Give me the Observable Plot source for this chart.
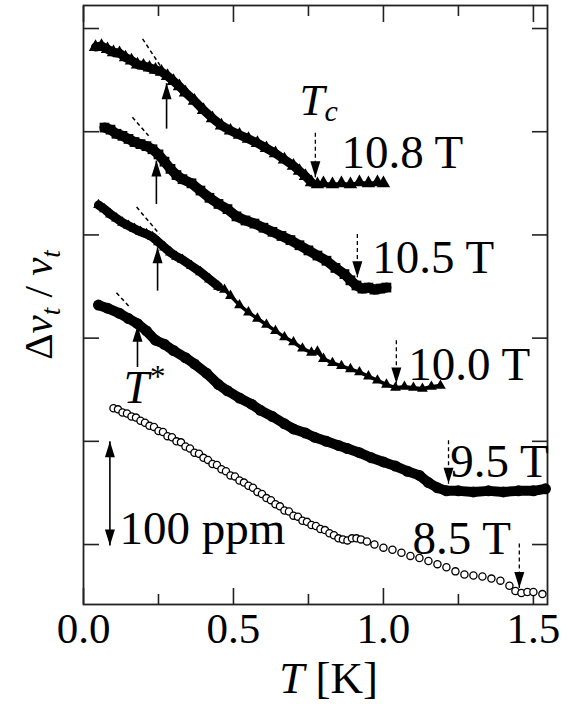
<!DOCTYPE html>
<html><head><meta charset="utf-8">
<script src="https://cdn.jsdelivr.net/npm/d3@7"></script>
<script src="https://cdn.jsdelivr.net/npm/@observablehq/plot@0.6"></script>
<style>body{margin:0;background:#fff}</style>
</head><body><div id="chart"></div>
<script>
// ---- data (T in K, Δv/v in ppm, offset per curve) ----
const T108 = [0.04,0.06,0.08,0.10,0.12,0.14,0.16,0.18,0.20,0.22,0.24,0.26,0.28,0.30,0.32,0.34,0.37,0.40,0.43,0.46,0.49,0.52,0.55,0.58,0.61,0.64,0.67,0.70,0.72,0.74,0.76,0.78,0.80,0.83,0.86,0.89,0.92,0.95,0.98,1.00];
const V108 = [482,483,480,477,476,472,469,465,464,462,460,458,454,449,444,438,430,421,413,406,401,397,393,389,384,379,373,367,362,357,351,349,350,349,350,349,351,350,351,350];

const T105 = [0.07,0.09,0.11,0.13,0.15,0.17,0.19,0.21,0.23,0.25,0.27,0.29,0.31,0.33,0.36,0.39,0.42,0.45,0.48,0.51,0.54,0.57,0.60,0.63,0.66,0.69,0.72,0.75,0.78,0.81,0.84,0.87,0.89,0.91,0.93,0.95,0.97,0.99,1.01];
const V105 = [404,402,398,396,393,390,388,386,383,378,371,364,358,354,350,343,336,330,325,318,314,311,307,303,299,295,290,285,280,275,268,262,256,251,248,249,247,248,249];

const T100 = [0.05,0.07,0.09,0.11,0.13,0.15,0.17,0.19,0.21,0.23,0.25,0.27,0.29,0.31,0.33,0.36,0.39,0.42,0.45,0.47,0.49,0.52,0.55,0.58,0.61,0.64,0.67,0.70,0.73,0.76,0.78,0.80,0.83,0.86,0.89,0.92,0.95,0.98,1.01,1.04,1.07,1.10,1.13,1.16,1.19];
const V100 = [329,325,320,316,312,309,306,303,301,298,293,288,283,279,276,270,264,257,250,247,241,232,225,219,213,207,201,196,190,186,187,180,176,173,170,167,163,159,155,152,153,152,151,153,154];

const T95 = [0.05,0.08,0.12,0.15,0.18,0.21,0.24,0.27,0.30,0.34,0.37,0.41,0.45,0.48,0.52,0.56,0.59,0.63,0.67,0.70,0.74,0.77,0.81,0.85,0.88,0.92,0.96,1.00,1.04,1.08,1.12,1.15,1.18,1.21,1.25,1.30,1.35,1.40,1.45,1.50,1.54];
const V95 = [232,229,224,219,214,207,198,194,188,181,175,166,155,149,142,136,130,124,117,112,108,104,100,96,93,89,84,80,76,71,67,60,55,52,52,51,52,51,52,52,54];

const T85 = [0.100,0.115,0.130,0.145,0.160,0.175,0.190,0.205,0.220,0.235,0.250,0.265,0.280,0.295,0.310,0.325,0.340,0.355,0.370,0.385,0.400,0.415,0.430,0.445,0.460,0.475,0.490,0.505,0.520,0.535,0.550,0.565,0.580,0.595,0.610,0.625,0.640,0.655,0.670,0.685,0.700,0.715,0.730,0.745,0.760,0.775,0.790,0.805,0.820,0.835,0.850,0.865,0.880,0.895,0.910,0.925,0.945,0.97,1.00,1.03,1.06,1.09,1.12,1.15,1.18,1.21,1.24,1.27,1.30,1.33,1.36,1.39,1.42,1.44,1.46,1.48,1.50,1.53];
const V85 = [132,131,128,127,124,123,120,118,115,114,110,109,105,104,100,99,95,93,89,88,84,82,78,77,73,71,67,66,62,60,57,55,51,49,45,43,39,37,33,32,28,27,23,22,19,18,15,14,11,9,6,5,4,6,6,5,3,0,-3,-5,-8,-11,-13,-16,-19,-22,-26,-29,-30,-31,-33,-35,-40,-45,-47,-46,-46,-48];

// Tc arrows (dashed, pointing down)
const tcT   = [0.773, 0.913, 1.043, 1.217, 1.453];
const tcTop = [399, 301, 198, 101, 1];
const tcTip = [356, 259, 156, 59, -42];
// T* arrows (solid, pointing up)
const tsT    = [0.277, 0.243, 0.247, 0.18];
const tsTail = [403, 330, 246, 172];
const tsTip  = [447, 372, 288, 212];
// tangent dashed lines
const tanT1 = [0.197, 0.163, 0.177, 0.11];
const tanV1 = [490, 414, 327, 244];
const tanT2 = [0.267, 0.217, 0.253, 0.157];
const tanV2 = [459, 396, 301, 229];
// field labels
const fieldLabels = ["10.8 T", "10.5 T", "10.0 T", "9.5 T", "8.5 T"];
const labelT = [0.86, 0.963, 1.083, 1.223, 1.097];
const labelV = [365, 263, 159, 65, -9];
// scale bar
const barT = 0.088, barLo = -1, barHi = 100;
const xTicksMajor = [0, 0.5, 1.0, 1.5];
const xTicksMinor = [0.25, 0.75, 1.25];
const yTicks = [0, 100, 200, 300, 400, 500];

// ---- build ----
const zip = (T, V) => T.map((t, i) => ({T: t, v: V[i]}));
const s108 = zip(T108, V108), s105 = zip(T105, V105), s100 = zip(T100, V100), s95 = zip(T95, V95), s85 = zip(T85, V85);
const tcArrows = tcT.map((t, i) => ({T: t, top: tcTop[i], tip: tcTip[i]}));
const tsArrows = tsT.map((t, i) => ({T: t, tail: tsTail[i], tip: tsTip[i]}));
const tangents = tanT1.map((t, i) => ({T1: t, v1: tanV1[i], T2: tanT2[i], v2: tanV2[i]}));
const labels = fieldLabels.map((s, i) => ({s, T: labelT[i], v: labelV[i]}));

const headUp = {draw(c) { c.moveTo(0, 0); c.lineTo(-5, 16); c.lineTo(5, 16); c.closePath(); }};
const headDown = {draw(c) { c.moveTo(0, 0); c.lineTo(-5, -16); c.lineTo(5, -16); c.closePath(); }};

const F = "'Liberation Serif', 'Times New Roman', 'DejaVu Serif', serif";
const tickStyle = {stroke: "#222", strokeWidth: 1.6};

const svg = Plot.plot({
  width: 569, height: 704,
  marginLeft: 83, marginRight: 22, marginTop: 5, marginBottom: 100,
  x: {domain: [0, 1.547]},
  y: {domain: [-58.1, 522.3]},
  style: {fontFamily: F, background: "white", color: "black"},
  marks: [
    Plot.frame({stroke: "#222", strokeWidth: 1.8}),
    Plot.axisX({ticks: xTicksMajor, tickSize: -16, tickFormat: () => "", label: null, ...tickStyle}),
    Plot.axisX({ticks: xTicksMinor, tickSize: -10, tickFormat: () => "", label: null, ...tickStyle}),
    Plot.axisX({anchor: "top", ticks: xTicksMajor, tickSize: -16, tickFormat: () => "", label: null, ...tickStyle}),
    Plot.axisX({anchor: "top", ticks: xTicksMinor, tickSize: -10, tickFormat: () => "", label: null, ...tickStyle}),
    Plot.axisY({ticks: yTicks, tickSize: -16, tickFormat: () => "", label: null, ...tickStyle}),
    Plot.axisY({anchor: "right", ticks: yTicks, tickSize: -16, tickFormat: () => "", label: null, ...tickStyle}),
    Plot.axisX({ticks: xTicksMajor, tickSize: 0, tickPadding: 8, tickFormat: d3.format(".1f"), label: null, fontSize: 43, fontFamily: F, fill: "black"}),

    // 10.8 T
    Plot.line(s108.filter(d => d.T <= 0.77), {x: "T", y: "v", strokeWidth: 9, strokeLinejoin: "round", strokeLinecap: "round"}),
    Plot.line(s108.filter(d => d.T >= 0.76), {x: "T", y: "v", strokeWidth: 3}),
    Plot.dot(s108, {x: "T", y: "v", symbol: "triangle", r: 5, fill: "black"}),
    // 10.5 T
    Plot.line(s105, {x: "T", y: "v", strokeWidth: 10, strokeLinejoin: "round"}),
    Plot.dot(s105, {x: "T", y: "v", symbol: "square", r: 5.5, fill: "black"}),
    // 10.0 T
    Plot.line(s100.filter(d => d.T <= 0.45), {x: "T", y: "v", strokeWidth: 9, strokeLinejoin: "round", strokeLinecap: "round"}),
    Plot.line(s100.filter(d => d.T >= 0.45), {x: "T", y: "v", strokeWidth: 3.5}),
    Plot.dot(s100, {x: "T", y: "v", symbol: "triangle", r: 4, fill: "black"}),
    // 9.5 T
    Plot.line(s95, {x: "T", y: "v", strokeWidth: 10, strokeLinejoin: "round", strokeLinecap: "round"}),
    Plot.dot(s95, {x: "T", y: "v", r: 5.5, fill: "black"}),
    // 8.5 T
    Plot.dot(s85, {x: "T", y: "v", r: 3.6, fill: "white", stroke: "black", strokeWidth: 1.3}),

    // tangents
    Plot.link(tangents, {x1: "T1", y1: "v1", x2: "T2", y2: "v2", strokeWidth: 1.5, strokeDasharray: "4,3"}),
    // T* arrows
    Plot.link(tsArrows, {x1: "T", y1: "tail", x2: "T", y2: "tip", strokeWidth: 1.6}),
    Plot.dot(tsArrows, {x: "T", y: "tip", symbol: headUp, fill: "black", stroke: null}),
    // Tc arrows
    Plot.link(tcArrows, {x1: "T", y1: "top", x2: "T", y2: "tip", strokeWidth: 1.3, strokeDasharray: "4,3"}),
    Plot.dot(tcArrows, {x: "T", y: "tip", symbol: headDown, fill: "black", stroke: null}),
    // 100 ppm bar
    Plot.link([{T: barT, lo: barLo, hi: barHi}], {x1: "T", y1: "lo", x2: "T", y2: "hi", strokeWidth: 1.6}),
    Plot.dot([{T: barT, v: barHi}], {x: "T", y: "v", symbol: headUp, fill: "black", stroke: null}),
    Plot.dot([{T: barT, v: barLo}], {x: "T", y: "v", symbol: headDown, fill: "black", stroke: null}),

    // texts
    Plot.text(labels, {x: "T", y: "v", text: "s", textAnchor: "start", lineAnchor: "bottom", fontSize: 47, fontFamily: F, fill: "black"}),
    Plot.text([{T: 0.12, v: 1}], {x: "T", y: "v", text: () => "100 ppm", textAnchor: "start", lineAnchor: "bottom", fontSize: 47, fontFamily: F, fill: "black"}),
    Plot.text([{T: 0.72, v: 416}], {x: "T", y: "v", text: () => "Tc", textAnchor: "start", lineAnchor: "bottom", fontSize: 45, fontFamily: F, fill: "black"}),
    Plot.text([{T: 0.133, v: 137}], {x: "T", y: "v", text: () => "T*", textAnchor: "start", lineAnchor: "bottom", fontSize: 46, fontFamily: F, fill: "black"}),
    Plot.text(["ylab"], {frameAnchor: "left", dx: -32, rotate: -90, text: () => "Δvt / vt", textAnchor: "middle", lineAnchor: "bottom", fontSize: 41, fontFamily: F, fill: "black"}),
    Plot.text(["xlab"], {frameAnchor: "bottom", dx: 13, dy: 88, text: () => "T [K]", textAnchor: "middle", lineAnchor: "bottom", fontSize: 45, fontFamily: F, fill: "black"})
  ]
});

// rich text (italics, sub/superscripts)
function rich(el, parts) {
  const s = d3.select(el);
  s.text(null);
  for (const p of parts) {
    const ts = s.append("tspan").text(p.t);
    if (p.i) ts.attr("font-style", "italic");
    if (p.fs) ts.attr("font-size", p.fs);
    if (p.dy != null) ts.attr("dy", p.dy);
    if (p.dx != null) ts.attr("dx", p.dx);
  }
}
d3.select(svg).selectAll("text").each(function () {
  const t = this.textContent;
  if (t === "Tc") rich(this, [{t: "T", i: 1}, {t: "c", i: 1, fs: 30, dy: 6}]);
  else if (t === "T*") rich(this, [{t: "T", i: 1}, {t: "*", fs: 31, dy: -16, dx: 1}]);
  else if (t === "T [K]") rich(this, [{t: "T", i: 1}, {t: " [K]"}]);
  else if (t === "Δvt / vt") rich(this, [{t: "Δ"}, {t: "v", i: 1}, {t: "t", i: 1, fs: 27, dy: 8}, {t: " / ", dy: -8}, {t: "v", i: 1}, {t: "t", i: 1, fs: 27, dy: 8}]);
});

document.getElementById("chart").appendChild(svg);
</script>
</body></html>
